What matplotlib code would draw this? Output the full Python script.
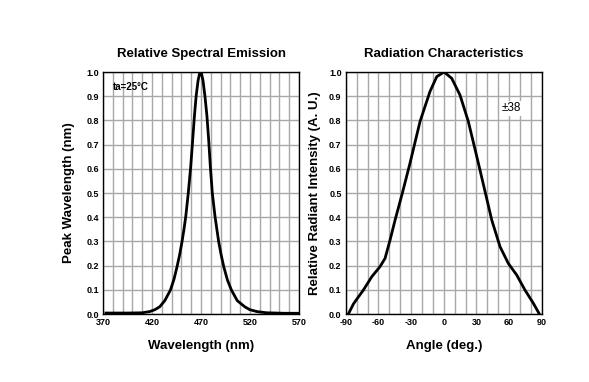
import numpy as np
import matplotlib.pyplot as plt
from matplotlib.ticker import MultipleLocator

plt.rcParams['font.family'] = ['Liberation Sans', 'DejaVu Sans']
plt.rcParams['axes.unicode_minus'] = False

# spectral emission
wl = [373, 395, 410, 417.6, 423, 427.9, 433, 438.8, 442.5, 445.5, 448.2, 450.6,
      452.6, 454.4, 457, 459.5, 461.5, 463.3, 465, 467, 468.5, 469.5, 470.5,
      472, 474, 476, 477.8, 479.5, 481.5, 484.3, 488, 490.5, 493.2, 497, 501,
      507, 514.6, 519.7, 527, 537, 555, 570]
rel = [0.004, 0.004, 0.005, 0.01, 0.018, 0.03, 0.055, 0.099, 0.145, 0.195,
       0.245, 0.299, 0.35, 0.402, 0.5, 0.61, 0.72, 0.82, 0.9, 0.965, 0.993,
       1.0, 0.993, 0.965, 0.9, 0.82, 0.72, 0.61, 0.5, 0.402, 0.299, 0.245,
       0.195, 0.14, 0.099, 0.055, 0.03, 0.018, 0.01, 0.005, 0.003, 0.003]

# radiation pattern
angle = [-87.6, -83, -81.5, -73.8, -66.1, -58.5, -53.9, -49.3, -44.7, -38,
         -31, -21.8, -12.6, -6.4, 0.3, 7.3, 14.9, 22.6, 31.8, 39.5, 44.1,
         51.7, 59.3, 67, 74.6, 82.3, 87.8]
inten = [0.0, 0.041, 0.051, 0.099, 0.154, 0.196, 0.23, 0.306, 0.388, 0.5,
         0.623, 0.795, 0.92, 0.981, 1.0, 0.974, 0.905, 0.795, 0.623, 0.476,
         0.388, 0.278, 0.209, 0.161, 0.099, 0.044, 0.0]

fig = plt.figure(figsize=(5.89, 3.82), dpi=100)
ax0 = fig.add_axes([0.1749, 0.178, 0.3328, 0.6335])
ax1 = fig.add_axes([0.587, 0.178, 0.3328, 0.6335])

def style(ax, xmaj, xmin):
    ax.set_ylim(0, 1.0)
    ax.yaxis.set_major_locator(MultipleLocator(0.1))
    ax.xaxis.set_major_locator(MultipleLocator(xmaj))
    ax.xaxis.set_minor_locator(MultipleLocator(xmin))
    ax.grid(True, which='both', color='#a8a8a8', lw=1.0)
    ax.set_axisbelow(True)
    ax.tick_params(which='both', length=0, labelsize=6.5, pad=3)
    for lab in ax.get_xticklabels() + ax.get_yticklabels():
        lab.set_fontweight('bold')
    for s in ax.spines.values():
        s.set_color('black')
        s.set_linewidth(1.0)

ax0.plot(wl, rel, color='black', lw=2, solid_joinstyle='round')
ax0.set_xlim(370, 570)
style(ax0, 50, 10)
ax0.set_xticks([370, 420, 470, 520, 570])
ax0.set_title('Relative Spectral Emission', fontsize=9.5, fontweight='bold', pad=11)
ax0.set_xlabel('Wavelength (nm)', fontsize=9.5, fontweight='bold', labelpad=9)
ax0.set_ylabel('Peak Wavelength (nm)', fontsize=9.5, fontweight='bold', labelpad=8)
ax0.text(380, 0.94, 'ta=25°C', fontsize=7, fontweight='bold', va='center', ha='left')

ax1.plot(angle, inten, color='black', lw=2, solid_joinstyle='round')
ax1.set_xlim(-90, 90)
style(ax1, 30, 10)
ax1.set_title('Radiation Characteristics', fontsize=9.5, fontweight='bold', pad=11)
ax1.set_xlabel('Angle (deg.)', fontsize=9.5, fontweight='bold', labelpad=9)
ax1.set_ylabel('Relative Radiant Intensity (A. U.)', fontsize=9.5, fontweight='bold', labelpad=6)
ax1.text(62.5, 0.85, '±38', fontsize=8.5, va='center', ha='center',
         bbox=dict(facecolor='white', edgecolor='none', pad=1))

fig.savefig('out.png', dpi=100)
